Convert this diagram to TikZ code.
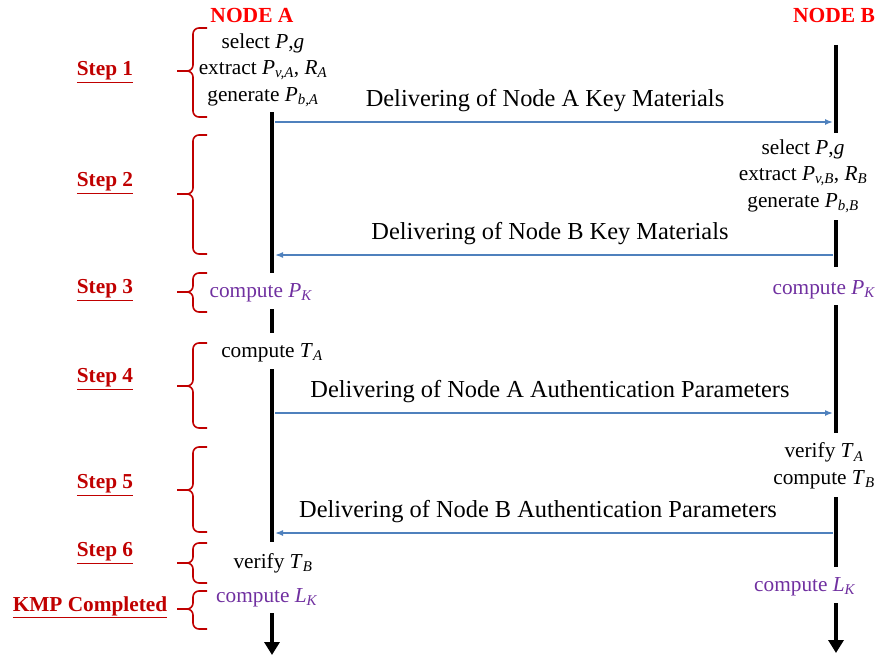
\documentclass[tikz,border=0pt]{standalone}
\usepackage{fontspec}
\setmainfont{Liberation Serif}
\usetikzlibrary{arrows.meta}
\definecolor{msgblue}{RGB}{79,129,189}
\definecolor{stepred}{RGB}{192,0,0}
\definecolor{keypurple}{RGB}{112,48,160}
\newcommand{\vr}[2]{\textit{#1}\textsubscript{\textit{#2}}}
\tikzstyle{lifeline} = [draw, line width=4.5pt]
\tikzstyle{lifeend} = [lifeline, -{Triangle[length=13pt,width=15pt]}]
\tikzstyle{line} = [draw=msgblue, line width=1.5pt, -{Latex[length=8pt,width=6pt]}]
\tikzstyle{msg} = [font=\fontsize{24.4}{28}\selectfont, above=6pt, inner sep=3pt]
\tikzstyle{act} = [font=\fontsize{21.3}{26.5}\selectfont, align=center, inner sep=0pt]
\tikzstyle{key} = [act, text=keypurple]
\tikzstyle{party} = [font=\fontsize{21.5}{26}\selectfont\bfseries, text=red]
\tikzstyle{steplabel} = [font=\fontsize{21.3}{26}\selectfont\bfseries, text=stepred]
\tikzstyle{stepbrace} = [draw=stepred, line width=1.6pt, rounded corners=6pt]

\begin{document}
\begin{tikzpicture}[x=1pt, y=-1pt]
    \useasboundingbox (0,0) rectangle (881,661);
    % Place nodes
    \node [party] (nodea) at (252,15) {NODE A};
    \node [party] (nodeb) at (834,15) {NODE B};
    \node [act] (selecta) at (263,70) {select \textit{P},\textit{g}\\extract \vr{P}{v,A}, \vr{R}{A}\\generate \vr{P}{b,A}};
    \node [act] (selectb) at (803,176) {select \textit{P},\textit{g}\\extract \vr{P}{v,B}, \vr{R}{B}\\generate \vr{P}{b,B}};
    \node [key] (pka) at (261,293) {compute \vr{P}{K}};
    \node [key] (pkb) at (824,290) {compute \vr{P}{K}};
    \node [act] (ta) at (272,353) {compute \vr{T}{A}};
    \node [act] (tb) at (824,466) {verify \vr{T}{A}\\compute \vr{T}{B}};
    \node [act] (verifya) at (273,563) {verify \vr{T}{B}};
    \node [key] (lka) at (267,598) {compute \vr{L}{K}};
    \node [key] (lkb) at (805,587) {compute \vr{L}{K}};
    % Steps and braces
    \foreach \n/\ly/\t/\m/\b in {1/72/28/71/117, 2/183/135/194/254, 3/290/273/292/312, 4/379/343/386/428, 5/485/447/490/532, 6/553/543/563/583} {
        \node [steplabel] (step\n) at (105,\ly) {\underline{Step \n}};
        \draw [stepbrace] (207,\t) -| (193,\m) -- (177,\m);
        \draw [stepbrace] (177,\m) -- (193,\m) |- (207,\b);
    }
    \node [steplabel] (kmp) at (90,607) {\underline{KMP Completed}};
    \draw [stepbrace] (207,591) -| (193,609) -- (177,609);
    \draw [stepbrace] (177,609) -- (193,609) |- (207,629);
    % Lifelines
    \path [lifeline] (272,112) -- (272,273);
    \path [lifeline] (272,309) -- (272,333);
    \path [lifeline] (272,369) -- (272,542);
    \path [lifeend] (272,613) -- (272,655);
    \path [lifeline] (836,45) -- (836,133);
    \path [lifeline] (836,220) -- (836,267);
    \path [lifeline] (836,305) -- (836,433);
    \path [lifeline] (836,497) -- (836,567);
    \path [lifeend] (836,603) -- (836,653);
    % Draw edges
    \coordinate (a1) at (275,122);
    \coordinate (b1) at (833,122);
    \coordinate (a2) at (275,255);
    \coordinate (b2) at (833,255);
    \coordinate (a3) at (275,413);
    \coordinate (b3) at (833,413);
    \coordinate (a4) at (275,533);
    \coordinate (b4) at (833,533);
    \path [line] (a1) -- node [msg, xshift=-9pt] {Delivering of Node A Key Materials} (b1);
    \path [line] (b2) -- node [msg, xshift=-4pt] {Delivering of Node B Key Materials} (a2);
    \path [line] (a3) -- node [msg, xshift=-4pt] {Delivering of Node A Authentication Parameters} (b3);
    \path [line] (b4) -- node [msg, xshift=-16pt] {Delivering of Node B Authentication Parameters} (a4);
\end{tikzpicture}
\end{document}
